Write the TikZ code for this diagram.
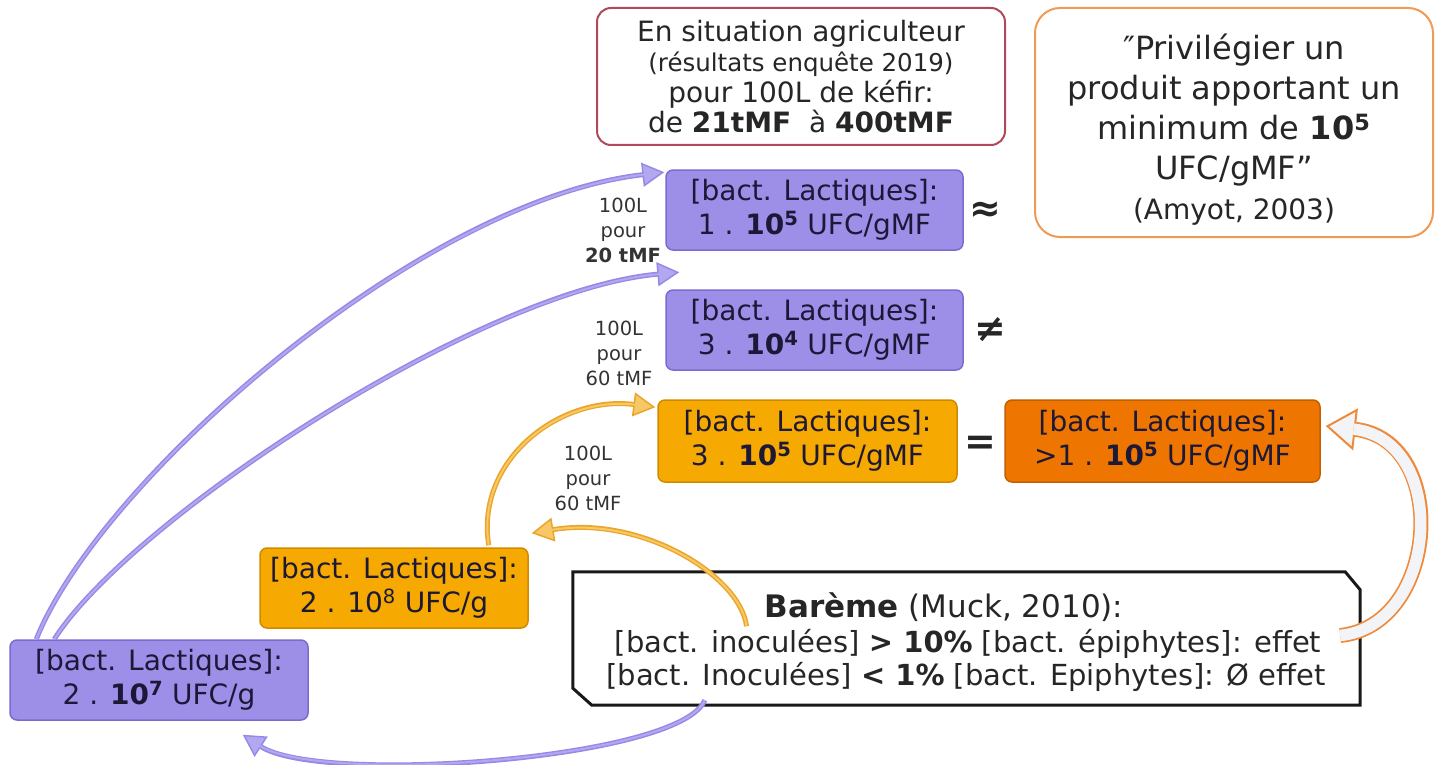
\documentclass[tikz,border=0pt]{standalone}
\usepackage{fontspec}
\setmainfont{DejaVu Sans}
\usetikzlibrary{arrows.meta,calc}
\definecolor{purpfill}{HTML}{9D8FE8}
\definecolor{purpborder}{HTML}{7A6BD0}
\definecolor{ambfill}{HTML}{F6A900}
\definecolor{ambborder}{HTML}{D08A00}
\definecolor{orgfill}{HTML}{EE7600}
\definecolor{orgborder}{HTML}{C45E00}
\definecolor{topborder}{HTML}{B04A5A}
\definecolor{quoteborder}{HTML}{EF9A55}
\definecolor{boxtext}{HTML}{1C1838}
\definecolor{lbltext}{HTML}{333333}
\definecolor{arrpurpout}{HTML}{968AE6}
\definecolor{arrpurpin}{HTML}{B2A8F0}
\definecolor{arrambout}{HTML}{EBA52A}
\definecolor{arrambin}{HTML}{F6C866}
\definecolor{arrorgout}{HTML}{EF8A3A}
\definecolor{arrorgin}{HTML}{F3F4F8}
\begin{document}
\begin{tikzpicture}[x=1pt,y=-1pt,
  pbox/.style={draw=purpborder, fill=purpfill, rounded corners=7pt, line width=1.5pt,
    minimum width=297pt, minimum height=80pt, align=center, inner sep=0pt,
    text=boxtext, font=\fontsize{28}{34}\selectfont},
  abox/.style={pbox, draw=ambborder, fill=ambfill},
  obox/.style={pbox, draw=orgborder, fill=orgfill},
  lbl/.style={align=center, font=\fontsize{19.5}{25}\selectfont, text=lbltext, inner sep=0pt},
  sym/.style={font=\fontsize{38}{40}\selectfont\bfseries, inner sep=0pt, text=black!85},
  btxt/.style={inner sep=0pt, font=\fontsize{29}{34}\selectfont, text=black!85},
  pout/.style={draw=arrpurpout, line width=5pt, -{Triangle[length=22pt,width=24pt,line width=1.5pt,fill=arrpurpin]}},
  pin/.style={draw=arrpurpin, line width=2pt, shorten >=20pt},
  aout/.style={draw=arrambout, line width=5pt, -{Triangle[length=22pt,width=24pt,line width=1.5pt,fill=arrambin]}},
  ain/.style={draw=arrambin, line width=2pt, shorten >=20pt},
  oout/.style={draw=arrorgout, line width=15pt, -{Triangle[length=30pt,width=42pt,line width=2pt,fill=arrorgin]}},
  oin/.style={draw=arrorgin, line width=11.5pt, shorten >=28pt},
]
\useasboundingbox (0,0) rectangle (1443,765);

% top boxes
\node[draw=topborder, fill=white, rounded corners=14pt, line width=2pt,
  minimum width=408pt, minimum height=137pt, align=center, inner sep=0pt,
  font=\fontsize{28}{30.5}\selectfont, text=black!85] (top) at (801,76.5)
  {En situation agriculteur\\
   {\fontsize{24.5}{30}\selectfont (résultats enquête 2019)}\\
   pour 100L de kéfir:\\
   de \textbf{21tMF}\ \ à \textbf{400tMF}};

\node[draw=quoteborder, fill=white, rounded corners=25pt, line width=2pt,
  minimum width=398pt, minimum height=229pt, inner sep=0pt] (quote) at (1234,122.5) {};
\node[align=center, inner sep=0pt, font=\fontsize{32}{40}\selectfont, text=black!85]
  (quotetext) at (1234,130)
  {″Privilégier un\\
   produit apportant un\\
   minimum de \textbf{10\textsuperscript{5}}\\
   UFC/gMF”\\
   {\fontsize{28}{40}\selectfont (Amyot, 2003)}};

% boxes
\node[pbox] (p1) at (814.5,210) {[bact. Lactiques]:\\1 . \textbf{10\textsuperscript{5}} UFC/gMF};
\node[pbox] (p2) at (814.5,330) {[bact. Lactiques]:\\3 . \textbf{10\textsuperscript{4}} UFC/gMF};
\node[abox, minimum width=299pt, minimum height=82pt] (a1) at (807.5,441) {[bact. Lactiques]:\\3 . \textbf{10\textsuperscript{5}} UFC/gMF};
\node[obox, minimum width=315pt, minimum height=82pt] (o1) at (1162.5,441) {[bact. Lactiques]:\\>1 . \textbf{10\textsuperscript{5}} UFC/gMF};
\node[abox, minimum width=268pt] (a2) at (394,588) {[bact. Lactiques]:\\2 . 10\textsuperscript{8} UFC/g};
\node[pbox, minimum width=298pt] (p3) at (159,680) {[bact. Lactiques]:\\2 . \textbf{10\textsuperscript{7}} UFC/g};

% symbols
\node[sym] (s1) at (985,212) {≈};
\node[sym] (s2) at (990,330) {≠};
\node[sym] (s3) at (980,445) {=};

% labels
\node[lbl] (l1) at (623,230) {100L\\pour\\\textbf{20 tMF}};
\node[lbl] (l2) at (619,353) {100L\\pour\\60 tMF};
\node[lbl] (l3) at (588,478) {100L\\pour\\60 tMF};

% Bareme
\node[minimum width=787pt, minimum height=133pt, inner sep=0pt] (bar) at (966.5,638.5) {};
\draw[line width=3pt, black!90, line join=miter]
  (bar.north west) -- ($(bar.north east)+(-15,0)$) -- ($(bar.north east)+(0,18)$)
  -- (bar.south east) -- ($(bar.south west)+(19,0)$) -- ($(bar.south west)+(0,-17)$) -- cycle;
\node[btxt, font=\fontsize{31}{34}\selectfont] (bt1) at (944,607) {\textbf{Barème} (Muck, 2010):};
\node[btxt] (bt2) at (968,644) {[bact. inoculées] \textbf{> 10\%} [bact. épiphytes]: effet};
\node[btxt] (bt3) at (966,677) {[bact. Inoculées] \textbf{< 1\%} [bact. Epiphytes]: Ø effet};

% arrows
\coordinate (p3t1) at ($(p3.north west)+(27,0)$);
\coordinate (p3t2) at ($(p3.north west)+(45,0)$);
\coordinate (p1h) at ($(p1.north west)+(-1,3)$);
\coordinate (p2h) at ($(p2.north west)+(14,-17)$);
\draw[pout] (p3t1) .. controls (100,480) and (420,200) .. (p1h);
\draw[pin]  (p3t1) .. controls (100,480) and (420,200) .. (p1h);
\draw[pout] (p3t2) .. controls (130,520) and (480,290) .. (p2h);
\draw[pin]  (p3t2) .. controls (130,520) and (480,290) .. (p2h);

\coordinate (a2t) at ($(a2.north east)+(-40,-2)$);
\coordinate (a1h) at ($(a1.north west)+(-2,8)$);
\draw[aout] (a2t) .. controls (475,460) and (560,395) .. (a1h);
\draw[ain]  (a2t) .. controls (475,460) and (560,395) .. (a1h);

\coordinate (bart) at ($(bt2.north west)+(132,-3)$);
\coordinate (a2h) at ($(a2.north east)+(3,-14)$);
\draw[aout] (bart) .. controls (740,575) and (640,515) .. (a2h);
\draw[ain]  (bart) .. controls (740,575) and (640,515) .. (a2h);

\coordinate (barb) at ($(bar.south west)+(132,-5)$);
\coordinate (p3h) at ($(p3.south east)+(-66,14)$);
\draw[pout] (barb) .. controls (680,760) and (320,785) .. (p3h);
\draw[pin]  (barb) .. controls (680,760) and (320,785) .. (p3h);

\coordinate (barr) at ($(bar.east)+(-20,-3)$);
\coordinate (o1h) at ($(o1.east)+(5,-15)$);
\draw[oout] (barr) .. controls (1440,625) and (1450,440) .. (o1h);
\draw[oin]  (barr) .. controls (1440,625) and (1450,440) .. (o1h);
\end{tikzpicture}
\end{document}
